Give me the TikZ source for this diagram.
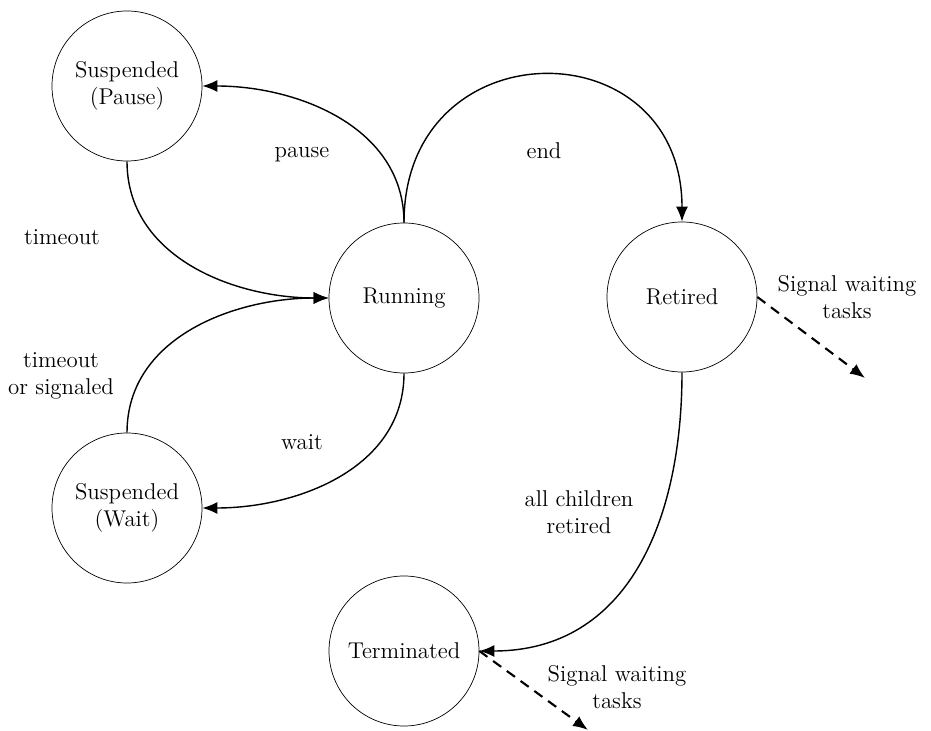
\documentclass[tikz,border=0pt]{standalone}
\usetikzlibrary{arrows.meta}
\begin{document}
\begin{tikzpicture}[font=\fontsize{13}{15.5}\selectfont,
    stato/.style={circle, draw, minimum size=3cm, inner sep=0pt, align=center},
    freccia/.style={-{Latex[length=3mm,width=2.4mm]}, thick},
    segnale/.style={-{Latex[length=3mm,width=2.4mm]}, very thick, dash pattern=on 2mm off 1.4mm},
    etichetta/.style={align=center}]
    \useasboundingbox (0,0) rectangle (18.62,-14.62);
    % Stati del task
    \foreach \nodename/\nodex/\nodey/\nodetext in {pause/2.54/-1.72/{Suspended\\(Pause)}, run/8.08/-5.96/Running, ret/13.64/-5.94/Retired, wait/2.54/-10.16/{Suspended\\(Wait)}, term/8.08/-13.02/Terminated}
        \node[stato] (\nodename) at (\nodex,\nodey) {\nodetext};

    \foreach \startnode/\endnode/\outangle/\inangle in {run/pause/90/0, pause/run/-90/180, wait/run/90/180, run/wait/-90/0}
        \draw[freccia] (\startnode) to[out=\outangle, in=\inangle] (\endnode);
    \draw[freccia] (run) to[out=90, in=90, looseness=1.8] (ret);
    \draw[freccia] (ret) to[out=-90, in=0, looseness=1.1] (term);

    \coordinate (fineret) at (17.3,-7.56);
    \coordinate (fineterm) at (11.76,-14.6);
    \draw[segnale] (ret.east) -- (fineret);
    \draw[segnale] (term.east) -- (fineterm);

    \node[etichetta] (lpause) at (6.04,-3.1) {pause};
    \node[etichetta] (lend) at (10.88,-3.02) {end};
    \node[etichetta] (ltimeout) at (1.24,-4.74) {timeout};
    \node[etichetta] (lsignaled) at (1.22,-7.52) {timeout\\or signaled};
    \node[etichetta] (lwait) at (6.04,-8.84) {wait};
    \node[etichetta] (lchildren) at (11.58,-10.24) {all children\\retired};
    \node[etichetta] (lsigret) at (16.94,-5.94) {Signal waiting\\tasks};
    \node[etichetta] (lsigterm) at (12.34,-13.74) {Signal waiting\\tasks};
\end{tikzpicture}
\end{document}
